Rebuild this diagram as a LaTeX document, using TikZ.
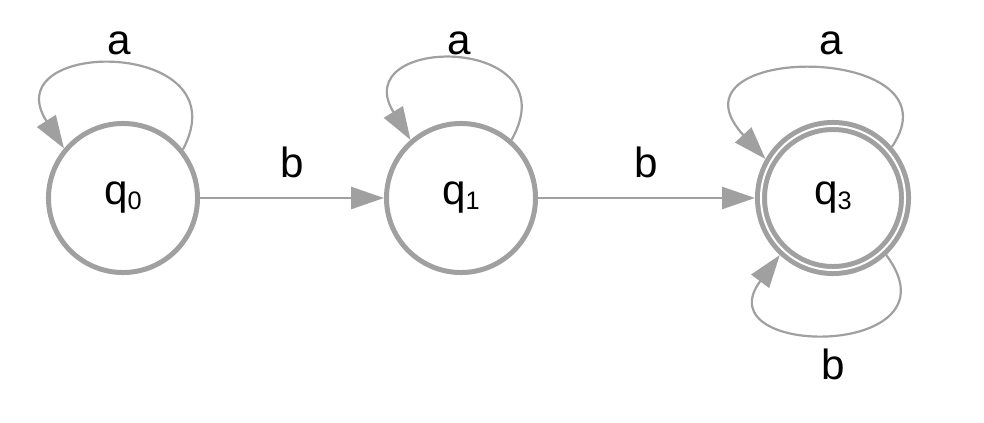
\documentclass[tikz,border=0pt]{standalone}
\usepackage{fontspec}
\setmainfont{Liberation Sans}
\usepackage{xcolor}
\usepackage{tikz}
\usetikzlibrary{arrows.meta}
\definecolor{stategray}{RGB}{160,160,160}

\newcommand{\statename}[1]{q{\fontsize{18}{20}\selectfont\raisebox{-3.5pt}{#1}}}

\begin{document}
\begin{tikzpicture}[
        x=0.025cm, y=-0.025cm,
        >={Triangle[length=0.82cm, width=0.55cm]},
        % Base style for the states
        statenode/.style={
            circle,
            draw=stategray,
            line width=0.125cm,
            minimum size=3.725cm,
            inner sep=0pt,
            font=\fontsize{30}{36}\selectfont
        },
        % Style for the accepting state (double ring)
        finalnode/.style={
            statenode,
            double,
            double distance=0.05cm,
            minimum size=3.6cm,
            outer sep=0.15cm
        },
        % Style for the transitions and their labels
        trans/.style={->, draw=stategray, line width=0.055cm},
        lbl/.style={inner sep=0pt, font=\fontsize{30}{36}\selectfont}
    ]

    \useasboundingbox (0,0) rectangle (984,422);

    % 1. Draw the states
    \node[statenode] (q0) at (123,198) {\statename{0}};
    \node[statenode] (q1) at (461,198) {\statename{1}};
    \node[finalnode] (q3) at (833,198) {\statename{3}};

    % 2. Draw the transitions between states
    \draw[trans] (q0.east) -- node[lbl, above=0.475cm] {b} (q1.west);
    \draw[trans] (q1.east) -- node[lbl, above=0.475cm] {b} (q3.west);

    % 3. Draw the self loops
    \draw[trans] (q0.39) .. controls +(60,-112) and +(-71,-111) .. node[lbl, pos=0.5, above=0.225cm] {a} (q0.140);
    \draw[trans] (q1.49) .. controls +(60,-106) and +(-65,-106) .. node[lbl, pos=0.5, above=0.11cm] {a} (q1.131);
    \draw[trans] (q3.41) .. controls +(72,-105) and +(-108,-117) .. node[lbl, pos=0.45, above=0.35cm] {a} (q3.150);
    \draw[trans] (q3.-47) .. controls +(78,104) and +(-78,104) .. node[lbl, pos=0.5, below=0.375cm] {b} (q3.-133);

\end{tikzpicture}
\end{document}
